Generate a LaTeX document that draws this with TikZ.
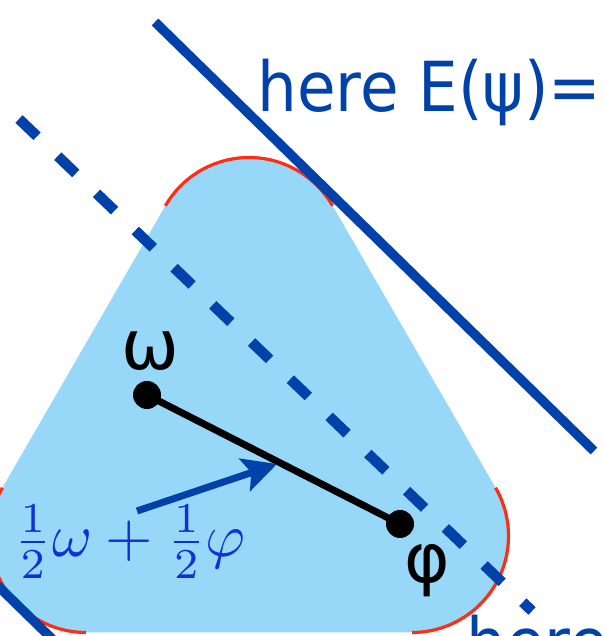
\documentclass[tikz,border=0pt]{standalone}
\usepackage{fontspec}
\newfontfamily\lblfont{DejaVu Sans}
\usetikzlibrary{arrows.meta}
\definecolor{lineblue}{RGB}{0,66,170}
\definecolor{mathblue}{RGB}{15,50,215}
\definecolor{fillblue}{RGB}{151,215,247}
\definecolor{arcred}{RGB}{255,45,20}
\begin{document}
\begin{tikzpicture}[x=1pt,y=1pt,
  supp/.style={draw=lineblue,line width=9.5pt},
  dashsupp/.style={draw=lineblue,line width=10.5pt,dash pattern=on 25pt off 28.7pt},
  cornerarc/.style={draw=arcred,line width=3.2pt},
  dot/.style={circle,fill=black,inner sep=0pt,minimum size=28pt},
  lbl/.style={inner sep=0pt,font=\lblfont\fontsize{69}{69}\selectfont},
  seg/.style={draw=black,line width=7pt},
  pointer/.style={draw=lineblue,line width=7pt,-{Stealth[length=34pt,width=34pt,inset=7pt]}},
]
\useasboundingbox (0,0) rectangle (603,636);
\clip (0,0) rectangle (603,636);
% rounded triangle
\fill[fillblue] (165.43,430.25) arc[start angle=150,end angle=30,radius=96.5]
  -- (495.57,148.25) arc[start angle=30,end angle=-90,radius=96.5]
  -- (86,3.5) arc[start angle=270,end angle=150,radius=96.5] -- cycle;
\draw[cornerarc] (165.43,430.25) arc[start angle=150,end angle=30,radius=96.5];
\draw[cornerarc] (495.57,148.25) arc[start angle=30,end angle=-90,radius=96.5];
\draw[cornerarc] (86,3.5) arc[start angle=270,end angle=150,radius=96.5];
% support lines
\coordinate (s1a) at (155,614);
\coordinate (s1b) at (594,185);
\coordinate (s2a) at (-30,77.3);
\coordinate (s2b) at (60,-10.6);
\coordinate (da) at (19,517);
\coordinate (db) at (532,25);
\draw[supp] (s1a) -- (s1b);
\draw[supp] (s2a) -- (s2b);
\draw[dashsupp] (da) -- (db);
% points and segment
\node[dot] (w) at (147,241) {};
\node[dot] (p) at (400,112) {};
\draw[seg] (w.center) -- (p.center);
\node[lbl,anchor=base] (wl) at (150,266) {ω};
\node[lbl,anchor=base] (pl) at (427,53) {φ};
% midpoint arrow and label
\coordinate (atail) at (137,125);
\coordinate (amid) at (277,172);
\draw[pointer] (atail) -- (amid);
\node[inner sep=0pt,anchor=base west,text=mathblue] (ml) at (13,79) {\scalebox{6.1}{$\frac12\omega+\frac12\varphi$}};
% texts
\node[lbl,anchor=base west,text=lineblue] (t1) at (257,524) {\scalebox{0.91}[1]{here E(ψ)=}};
\node[lbl,anchor=base west,text=lineblue] (t2) at (466,-31) {\scalebox{0.91}[1]{here}};
\end{tikzpicture}
\end{document}
